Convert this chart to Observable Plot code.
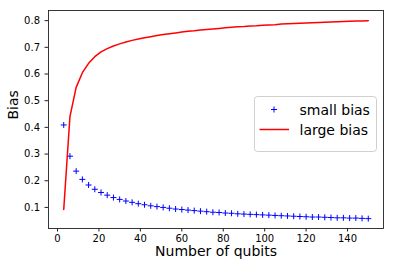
<!DOCTYPE html>
<html>
<head>
<meta charset="utf-8">
<script src="https://cdn.jsdelivr.net/npm/d3@7"></script>
<script src="https://cdn.jsdelivr.net/npm/@observablehq/plot@0.6"></script>
<style>
  html, body { margin: 0; padding: 0; background: white; }
  #chart { position: relative; width: 393px; height: 270px; }
</style>
</head>
<body>
<div id="chart"></div>
<script>
const qubits = [3,6,9,12,15,18,21,24,27,30,33,36,39,42,45,48,51,54,57,60,63,66,69,72,75,78,81,84,87,90,93,96,99,102,105,108,111,114,117,120,123,126,129,132,135,138,141,144,147,150];
const smallBias = [0.409,0.292,0.236,0.205,0.184,0.168,0.156,0.146,0.137,0.130,0.124,0.119,0.114,0.110,0.106,0.103,0.100,0.097,0.094,0.092,0.090,0.088,0.086,0.084,0.082,0.081,0.079,0.078,0.076,0.075,0.074,0.073,0.072,0.071,0.070,0.069,0.068,0.067,0.066,0.065,0.064,0.064,0.063,0.062,0.061,0.061,0.060,0.060,0.059,0.058];
const largeBias = [0.092,0.44,0.55,0.605,0.64,0.665,0.683,0.695,0.705,0.713,0.720,0.726,0.731,0.736,0.740,0.744,0.748,0.751,0.754,0.757,0.760,0.762,0.765,0.767,0.769,0.771,0.773,0.775,0.777,0.778,0.780,0.781,0.783,0.784,0.785,0.787,0.788,0.789,0.790,0.791,0.792,0.793,0.794,0.795,0.796,0.797,0.798,0.799,0.799,0.800];
const xTicks = [0,20,40,60,80,100,120,140];
const yTicks = [0.1,0.2,0.3,0.4,0.5,0.6,0.7,0.8];
const seriesNames = ["small bias", "large bias"];
const seriesColors = ["blue", "red"];
const xLabel = "Number of qubits";
const yLabel = "Bias";

const smallData = qubits.map((n, i) => ({n, v: smallBias[i]}));
const largeData = qubits.map((n, i) => ({n, v: largeBias[i]}));

const plusSymbol = {
  draw(context, size) {
    const r = Math.sqrt(size / Math.PI);
    context.moveTo(-r, 0); context.lineTo(r, 0);
    context.moveTo(0, -r); context.lineTo(0, r);
  }
};

const chart = Plot.plot({
  width: 393,
  height: 270,
  marginLeft: 48,
  marginRight: 10,
  marginTop: 10,
  marginBottom: 42,
  x: {domain: [-4.35, 157.35]},
  y: {domain: [0.021, 0.838]},
  style: {fontFamily: "DejaVu Sans", fontSize: "10px", color: "black", background: "white"},
  marks: [
    Plot.axisX({ticks: xTicks, tickSize: 3.5, tickPadding: 2.5, fontSize: 10, label: null, stroke: "#222"}),
    Plot.axisY({ticks: yTicks, tickSize: 3.5, tickPadding: 5, fontSize: 10, label: null, tickFormat: d3.format(".1f"), stroke: "#222"}),
    Plot.dot(smallData, {x: "n", y: "v", symbol: plusSymbol, r: 3, stroke: seriesColors[0], fill: "none", strokeWidth: 1}),
    Plot.line(largeData, {x: "n", y: "v", stroke: seriesColors[1], strokeWidth: 1.5}),
    Plot.frame({stroke: "#222", strokeWidth: 0.9}),
    Plot.text([xLabel], {text: d => d, frameAnchor: "bottom", dy: 27, fontSize: 14, fill: "black"}),
    Plot.text([yLabel], {text: d => d, frameAnchor: "left", dx: -35, rotate: -90, fontSize: 14, fill: "black"})
  ]
});
document.getElementById("chart").appendChild(chart);

// Legend (matplotlib style, inside the plot area)
const svg = d3.select(chart);
const lg = svg.append("g")
  .attr("font-family", "DejaVu Sans")
  .style("font-size", "14px")
  .attr("text-anchor", "start");
lg.append("rect")
  .attr("x", 254.5).attr("y", 96.5).attr("width", 122).attr("height", 55)
  .attr("rx", 3).attr("fill", "white").attr("fill-opacity", 0.8)
  .attr("stroke", "#d0d0d0").attr("stroke-width", 1);
seriesNames.forEach((name, i) => {
  const cy = 109.5 + i * 20;
  if (i === 0) {
    lg.append("path")
      .attr("d", `M${274 - 3},${cy}h6M274,${cy - 3}v6`)
      .attr("stroke", seriesColors[i]).attr("stroke-width", 1).attr("fill", "none");
  } else {
    lg.append("line")
      .attr("x1", 259.5).attr("x2", 289).attr("y1", cy).attr("y2", cy)
      .attr("stroke", seriesColors[i]).attr("stroke-width", 1.5);
  }
  lg.append("text")
    .attr("x", 299.5).attr("y", cy + 5)
    .attr("text-anchor", "start")
    .attr("fill", "black")
    .text(name);
});
</script>
</body>
</html>
